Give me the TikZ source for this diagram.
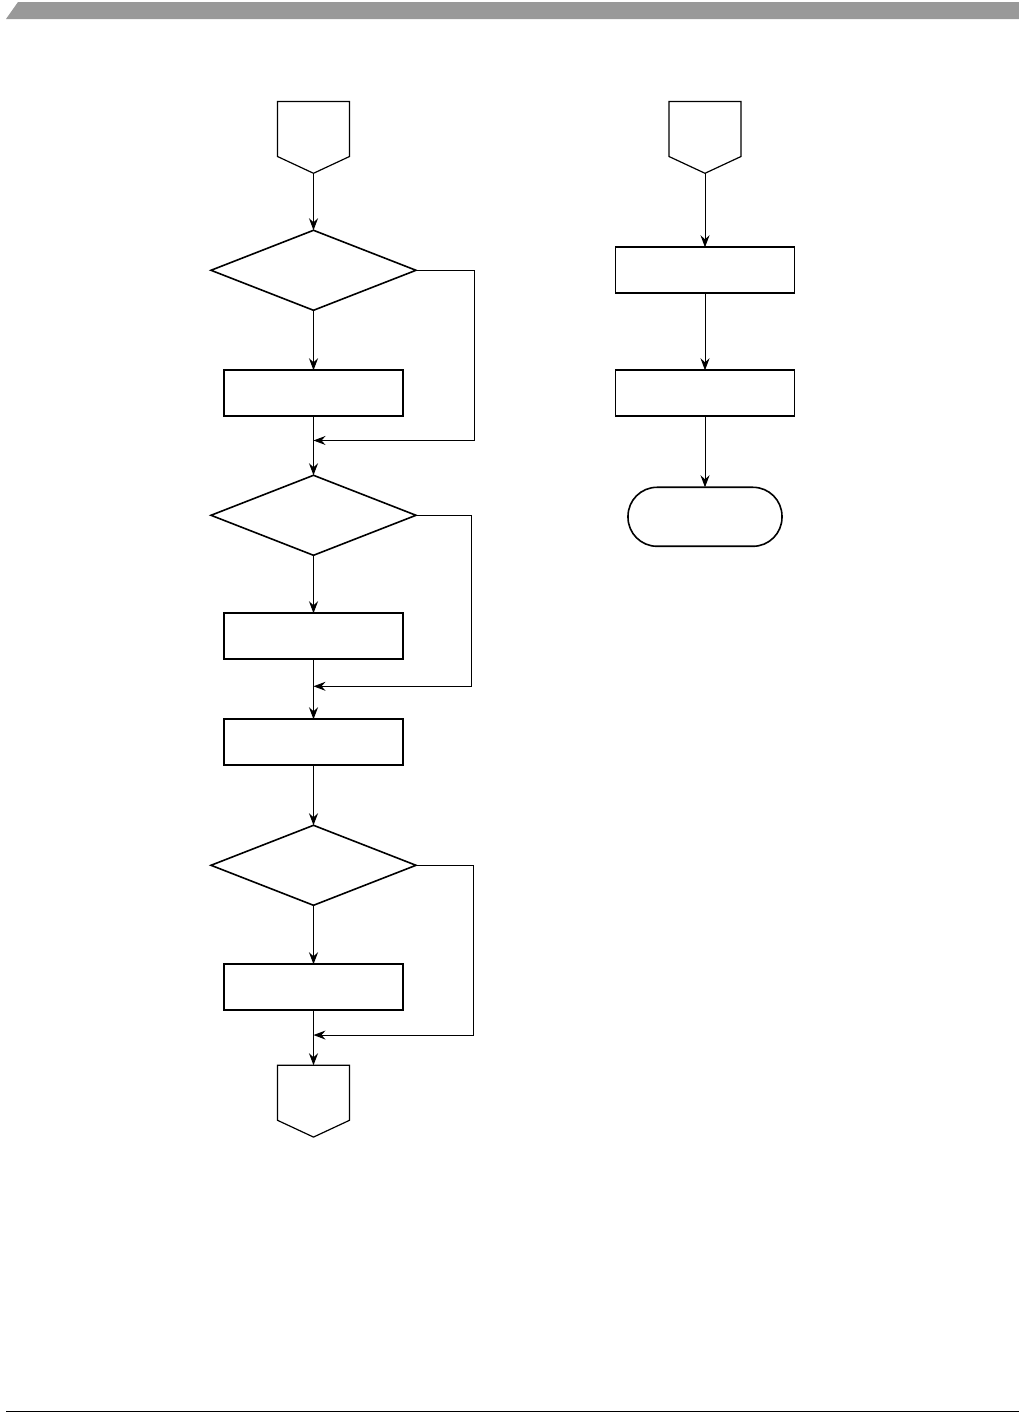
\documentclass[tikz,border=0pt]{standalone}
\usepackage{tikz}
\usetikzlibrary{shapes.geometric,shapes.symbols,arrows.meta,positioning,calc}

\begin{document}
\begin{tikzpicture}[x=1pt, y=-1pt,
  every node/.style={outer sep=0pt, inner sep=0pt},
  proc/.style={draw, line width=1.8pt, minimum width=179pt, minimum height=46pt},
  dec/.style={draw, diamond, line width=1.6pt, minimum width=205pt,
              minimum height=80pt},
  offpage/.style={draw, signal, signal to=south, signal pointer angle=130,
                  line width=1.2pt, minimum width=72pt, minimum height=55pt},
  term/.style={draw, rounded corners=29pt, line width=1.6pt,
               minimum width=154pt, minimum height=59pt},
  arr/.style={-{Stealth[length=12pt,width=9pt,inset=4pt]}, line width=1pt},
  node distance=59pt
]
  \useasboundingbox (0,0) rectangle (1019,1419);
  % page header and footer
  \fill[black!40] (6,19) -- (18,2) -- (1019,2) -- (1019,19) -- cycle;
  \draw[line width=1pt] (6,1411) -- (1019,1411);

  % left chart
  \node[offpage, anchor=north] (inA) at (313.5,101.5) {};
  \node[dec, below=57pt of inA] (d1) {};
  \node[proc, below=60pt of d1] (p1) {};
  \node[dec, below=of p1] (d2) {};
  \node[proc, below=58pt of d2] (p2) {};
  \node[proc, below=60pt of p2] (p3) {};
  \node[dec, below=60pt of p3] (d3) {};
  \node[proc, below=of d3] (p4) {};
  \node[offpage, below=55pt of p4] (outB) {};
  \coordinate (m1) at ($(p1.south)!0.41!(d2.north)$);
  \coordinate (m2) at ($(p2.south)!0.45!(p3.north)$);
  \coordinate (m3) at ($(p4.south)!0.45!(outB.north)$);
  \draw[arr] (inA) -- (d1);
  \draw[arr] (d1) -- (p1);
  \draw[arr] (p1) -- (d2);
  \draw[arr] (d2) -- (p2);
  \draw[arr] (p2) -- (p3);
  \draw[arr] (p3) -- (d3);
  \draw[arr] (d3) -- (p4);
  \draw[arr] (p4) -- (outB);
  \draw[arr] (d1.east) -- ++(58,0) |- (m1);
  \draw[arr] (d2.east) -- ++(55,0) |- (m2);
  \draw[arr] (d3.east) -- ++(57,0) |- (m3);

  % right chart
  \node[offpage, anchor=north] (inB) at (705,101.5) {};
  \node[proc, below=74pt of inB] (q1) {};
  \node[proc, below=77pt of q1] (q2) {};
  \node[term, below=71pt of q2] (stop) {};
  \draw[arr] (inB) -- (q1);
  \draw[arr] (q1) -- (q2);
  \draw[arr] (q2) -- (stop);
\end{tikzpicture}
\end{document}
